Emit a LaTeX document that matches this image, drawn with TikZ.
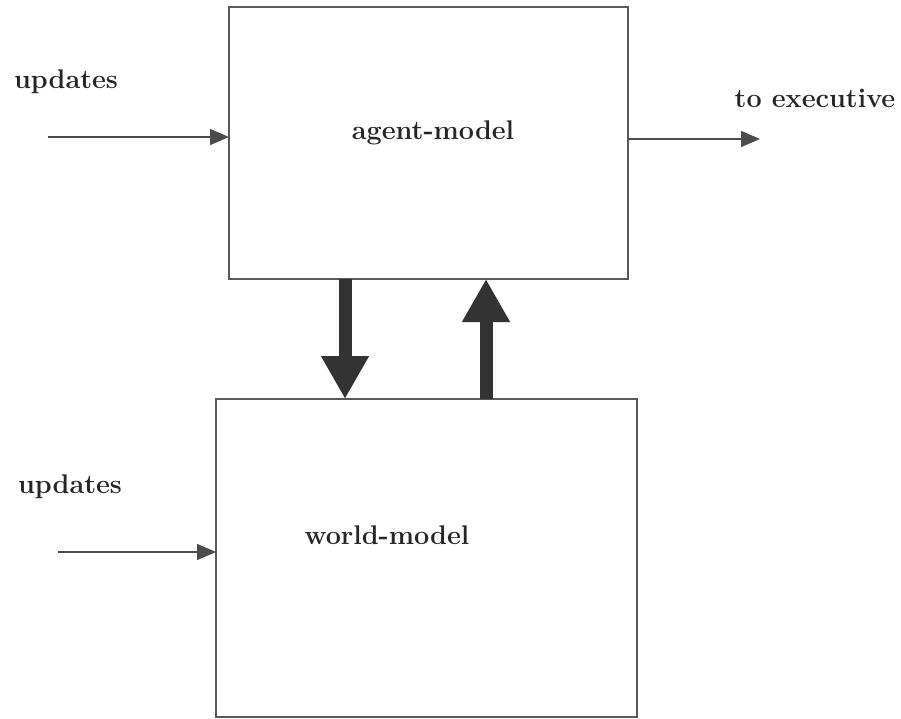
\documentclass[tikz,border=0pt]{standalone}
\usetikzlibrary{arrows.meta}
\begin{document}
\begin{tikzpicture}[x=1pt,y=-1pt,
  box/.style={draw=black!65,line width=2pt,inner sep=0pt,outer sep=0pt,fill=none},
  lbl/.style={font=\fontsize{27}{31}\selectfont\bfseries,text=black!85,inner sep=0pt},
  thin/.style={draw=black!70,line width=1.6pt,-{Triangle[width=16pt,length=19pt]}},
  bigarrow/.style={draw=black!80,line width=13pt,-{Triangle[width=45pt,length=43pt]}}]
\useasboundingbox (0,0) rectangle (901,719);
\node[box,minimum width=399pt,minimum height=272pt] (agent) at (428.5,143) {};
\node[box,minimum width=421pt,minimum height=318pt] (world) at (426.5,558) {};
\node[lbl] (agentlbl) at (433,133) {agent-model};
\node[lbl] (worldlbl) at (387,535) {world-model};
\node[lbl] (upd1) at (66,82) {updates};
\node[lbl] (upd2) at (70,487) {updates};
\node[lbl] (exec) at (815,98) {to executive};
\coordinate (in1) at (48,137);
\coordinate (in2) at (58,552);
\coordinate (out) at (760,139);
\coordinate (dx) at (345,0);
\coordinate (ux) at (486,0);
\draw[thin] (in1) -- (in1 -| agent.west);
\draw[thin] (in2) -- (in2 -| world.west);
\draw[thin] (out -| agent.east) -- (out);
\draw[bigarrow] (dx |- agent.south) -- (dx |- world.north);
\draw[bigarrow] (ux |- world.north) -- (ux |- agent.south);
\end{tikzpicture}
\end{document}
